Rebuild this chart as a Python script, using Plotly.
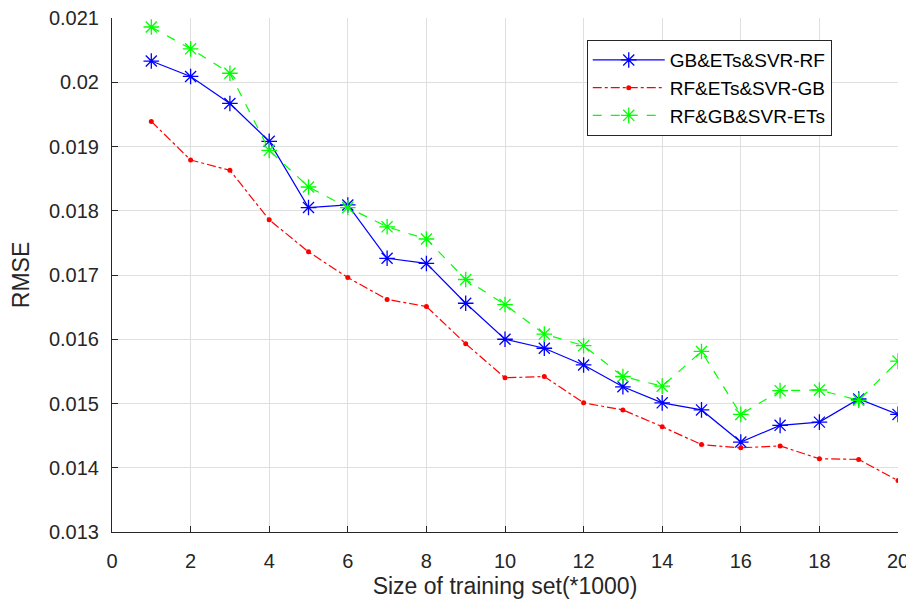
import plotly.graph_objects as go

# training set size (*1000)
sizes = list(range(1, 21))

rmse_gb_ets_svr_rf = [0.02033, 0.02009, 0.01967, 0.01908, 0.01805, 0.01809, 0.01726, 0.01718,
                      0.01656, 0.01600, 0.01586, 0.01560, 0.01526, 0.01501, 0.01490, 0.01440,
                      0.01466, 0.01471, 0.01507, 0.01483]
rmse_rf_ets_svr_gb = [0.01939, 0.01879, 0.01863, 0.01786, 0.01736, 0.01696, 0.01662, 0.01651,
                      0.01593, 0.01540, 0.01542, 0.01501, 0.01490, 0.01464, 0.01436, 0.01431,
                      0.01434, 0.01414, 0.01413, 0.01380]
rmse_rf_gb_svr_ets = [0.02086, 0.02052, 0.02014, 0.01894, 0.01837, 0.01805, 0.01775, 0.01756,
                      0.01693, 0.01654, 0.01608, 0.01590, 0.01542, 0.01527, 0.01581, 0.01483,
                      0.01520, 0.01521, 0.01505, 0.01566]

x_ticks = list(range(0, 21, 2))
y_ticks = [0.013, 0.014, 0.015, 0.016, 0.017, 0.018, 0.019, 0.02, 0.021]
y_labels = ["0.013", "0.014", "0.015", "0.016", "0.017", "0.018", "0.019", "0.02", "0.021"]

fig = go.Figure()
fig.add_trace(go.Scatter(x=sizes, y=rmse_gb_ets_svr_rf, name="GB&ETs&SVR-RF", mode="lines+markers",
                         line=dict(color="#0000ff", width=1.2),
                         marker=dict(symbol="asterisk-open", size=13, line=dict(color="#0000ff", width=1.3))))
fig.add_trace(go.Scatter(x=sizes, y=rmse_rf_ets_svr_gb, name="RF&ETs&SVR-GB", mode="lines+markers",
                         line=dict(color="#ff0000", width=1.2, dash="dashdot"),
                         marker=dict(symbol="circle", size=5, color="#ff0000")))
fig.add_trace(go.Scatter(x=sizes, y=rmse_rf_gb_svr_ets, name="RF&GB&SVR-ETs", mode="lines+markers",
                         line=dict(color="#00ff00", width=1.2, dash="dash"),
                         marker=dict(symbol="asterisk-open", size=13, line=dict(color="#00ff00", width=1.3))))

# page body has an 8px margin, so the figure is a bit smaller than the window
font_family = "Liberation Sans, Arial"
fig.update_layout(
    width=906, height=591,
    margin=dict(l=104, r=16, t=10, b=67, autoexpand=False),
    paper_bgcolor="white", plot_bgcolor="white",
    font=dict(family=font_family, size=20, color="#262626"),
    showlegend=True,
    legend=dict(x=0.604, y=0.957, xanchor="left", yanchor="top",
                bgcolor="white", bordercolor="#262626", borderwidth=1,
                font=dict(family=font_family, size=19, color="#000000"),
                tracegroupgap=0, itemwidth=72),
)
fig.update_xaxes(range=[0, 20], tickvals=x_ticks, showgrid=True, gridcolor="#dfdfdf", gridwidth=1,
                 showline=True, linecolor="#262626", linewidth=1, ticks="inside", ticklen=6,
                 tickcolor="#262626", zeroline=False, mirror=False, automargin=False,
                 ticklabelstandoff=11, ticklabeloverflow="allow",
                 title=dict(text="Size of training set(*1000)", font=dict(size=23), standoff=9))
fig.update_yaxes(range=[0.013, 0.021], tickvals=y_ticks, ticktext=y_labels, showgrid=True,
                 gridcolor="#dfdfdf", gridwidth=1, showline=True, linecolor="#262626", linewidth=1,
                 ticks="inside", ticklen=6, tickcolor="#262626", zeroline=False, mirror=False,
                 automargin=False, ticklabelstandoff=8, ticklabeloverflow="allow",
                 title=dict(text="RMSE", font=dict(size=23), standoff=13))

fig.write_html("out.html")
